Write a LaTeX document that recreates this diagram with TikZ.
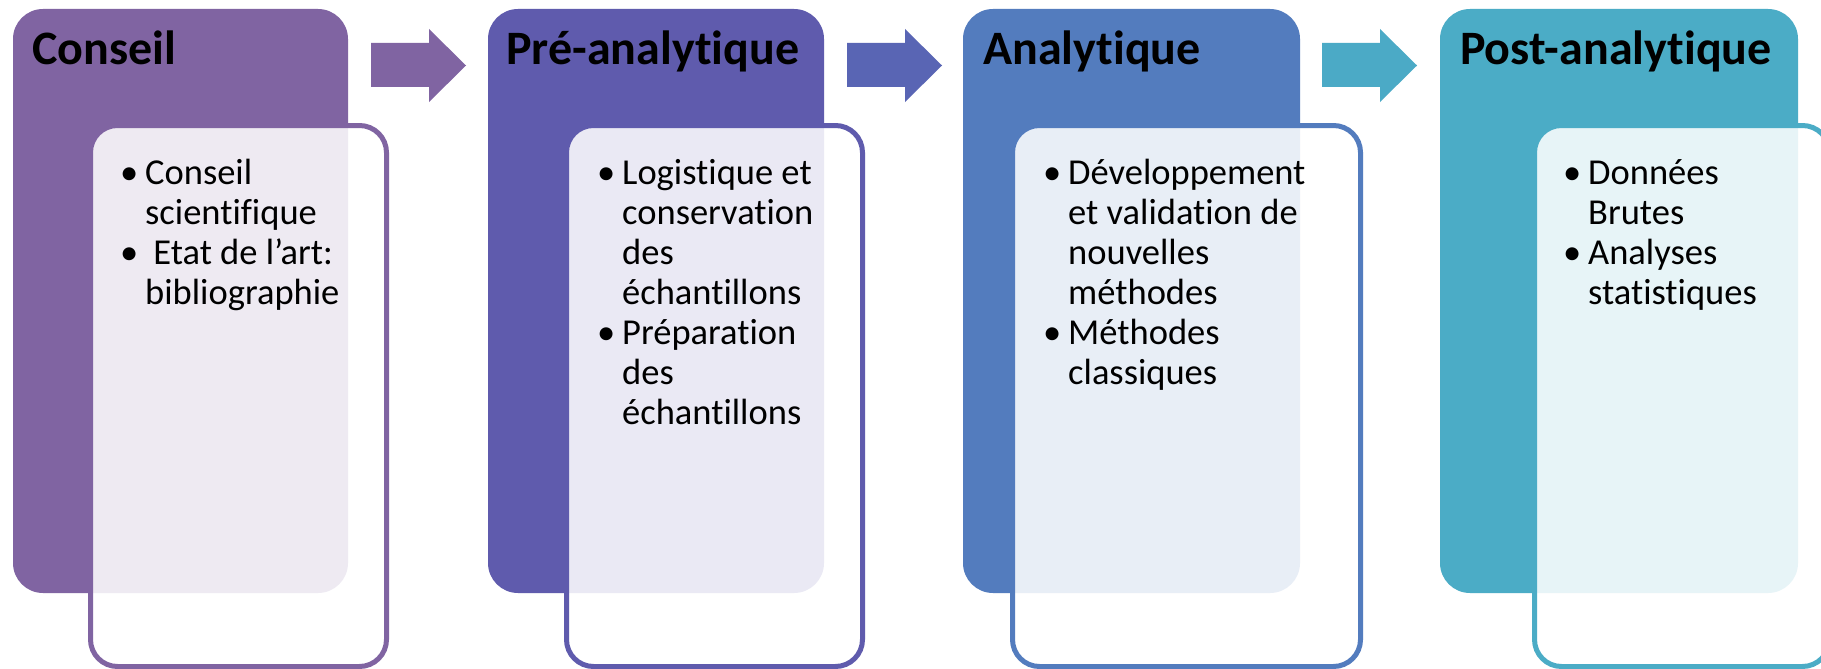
\documentclass[tikz,border=0pt]{standalone}
\usepackage{fontspec}
\setmainfont{Carlito}[Ligatures={NoCommon,NoRare,NoContextual}]
\definecolor{cA}{HTML}{8064A2}
\definecolor{cB}{HTML}{5F5BAD}
\definecolor{cC}{HTML}{537CBE}
\definecolor{cD}{HTML}{4BACC6}
\definecolor{aA}{HTML}{8064A2}
\definecolor{aB}{HTML}{5965B4}
\definecolor{aC}{HTML}{4BAAC6}
\newcommand{\bul}{\makebox[25pt][l]{•}}
\newcommand{\nob}{\makebox[25pt][l]{}}
\begin{document}
\begin{tikzpicture}[x=1pt,y=-1pt,
  outerbox/.style={rectangle, rounded corners=30pt, inner sep=0pt, outer sep=0pt, anchor=north west, minimum height=584pt},
  innerbox/.style={rectangle, rounded corners=27pt, inner sep=0pt, outer sep=0pt, anchor=north west, minimum height=541pt, fill=white, fill opacity=0.87, line width=5pt},
  header/.style={anchor=base west, inner sep=0pt, font=\fontsize{48}{56}\selectfont\bfseries},
  body/.style={anchor=base west, inner sep=0pt, font=\fontsize{36.5}{40}\selectfont}]
\useasboundingbox (0,0) rectangle (1821,669);
\fill[white] (0,0) rectangle (1821,669);

% block 1
\node[outerbox, fill=cA, minimum width=335pt] (o1) at (13,9) {};
\node[innerbox, draw=cA, minimum width=296pt] (i1) at (90.5,125.5) {};
\node[header] (h1) at (32,65) {Conseil};
\node[body] (t1) at (120,184) {\begin{tabular}[t]{@{}l@{}l@{}}
\bul & Conseil\\
\nob & scientifique\\
\bul & \ Etat de l’art:\\
\nob & bibliographie
\end{tabular}};

% block 2
\node[outerbox, fill=cB, minimum width=336pt] (o2) at (488,9) {};
\node[innerbox, draw=cB, minimum width=296pt] (i2) at (566.5,125.5) {};
\node[header] (h2) at (506,65) {Pré-analytique};
\node[body] (t2) at (597,184) {\begin{tabular}[t]{@{}l@{}l@{}}
\bul & Logistique et\\
\nob & conservation\\
\nob & des\\
\nob & échantillons\\
\bul & Préparation\\
\nob & des\\
\nob & échantillons
\end{tabular}};

% block 3
\node[outerbox, fill=cC, minimum width=337pt] (o3) at (963,9) {};
\node[innerbox, draw=cC, minimum width=348pt] (i3) at (1012.5,125.5) {};
\node[header] (h3) at (983,65) {Analytique};
\node[body] (t3) at (1043,184) {\begin{tabular}[t]{@{}l@{}l@{}}
\bul & Développement\\
\nob & et validation de\\
\nob & nouvelles\\
\nob & méthodes\\
\bul & Méthodes\\
\nob & classiques
\end{tabular}};

% block 4
\node[outerbox, fill=cD, minimum width=358pt] (o4) at (1440,9) {};
\node[innerbox, draw=cD, minimum width=295pt] (i4) at (1534.5,125.5) {};
\node[header] (h4) at (1460,65) {Post-analytique};
\node[body] (t4) at (1563,184) {\begin{tabular}[t]{@{}l@{}l@{}}
\bul & Données\\
\nob & Brutes\\
\bul & Analyses\\
\nob & statistiques
\end{tabular}};

% block arrows
\fill[aA] (371,43) -- (429,43) -- (429,29) -- (466,65.5) -- (429,102) -- (429,87) -- (371,87) -- cycle;
\fill[aB] (847,43) -- (905,43) -- (905,29) -- (942,65.5) -- (905,102) -- (905,87) -- (847,87) -- cycle;
\fill[aC] (1322,43) -- (1380,43) -- (1380,29) -- (1417,65.5) -- (1380,102) -- (1380,87) -- (1322,87) -- cycle;
\end{tikzpicture}
\end{document}
